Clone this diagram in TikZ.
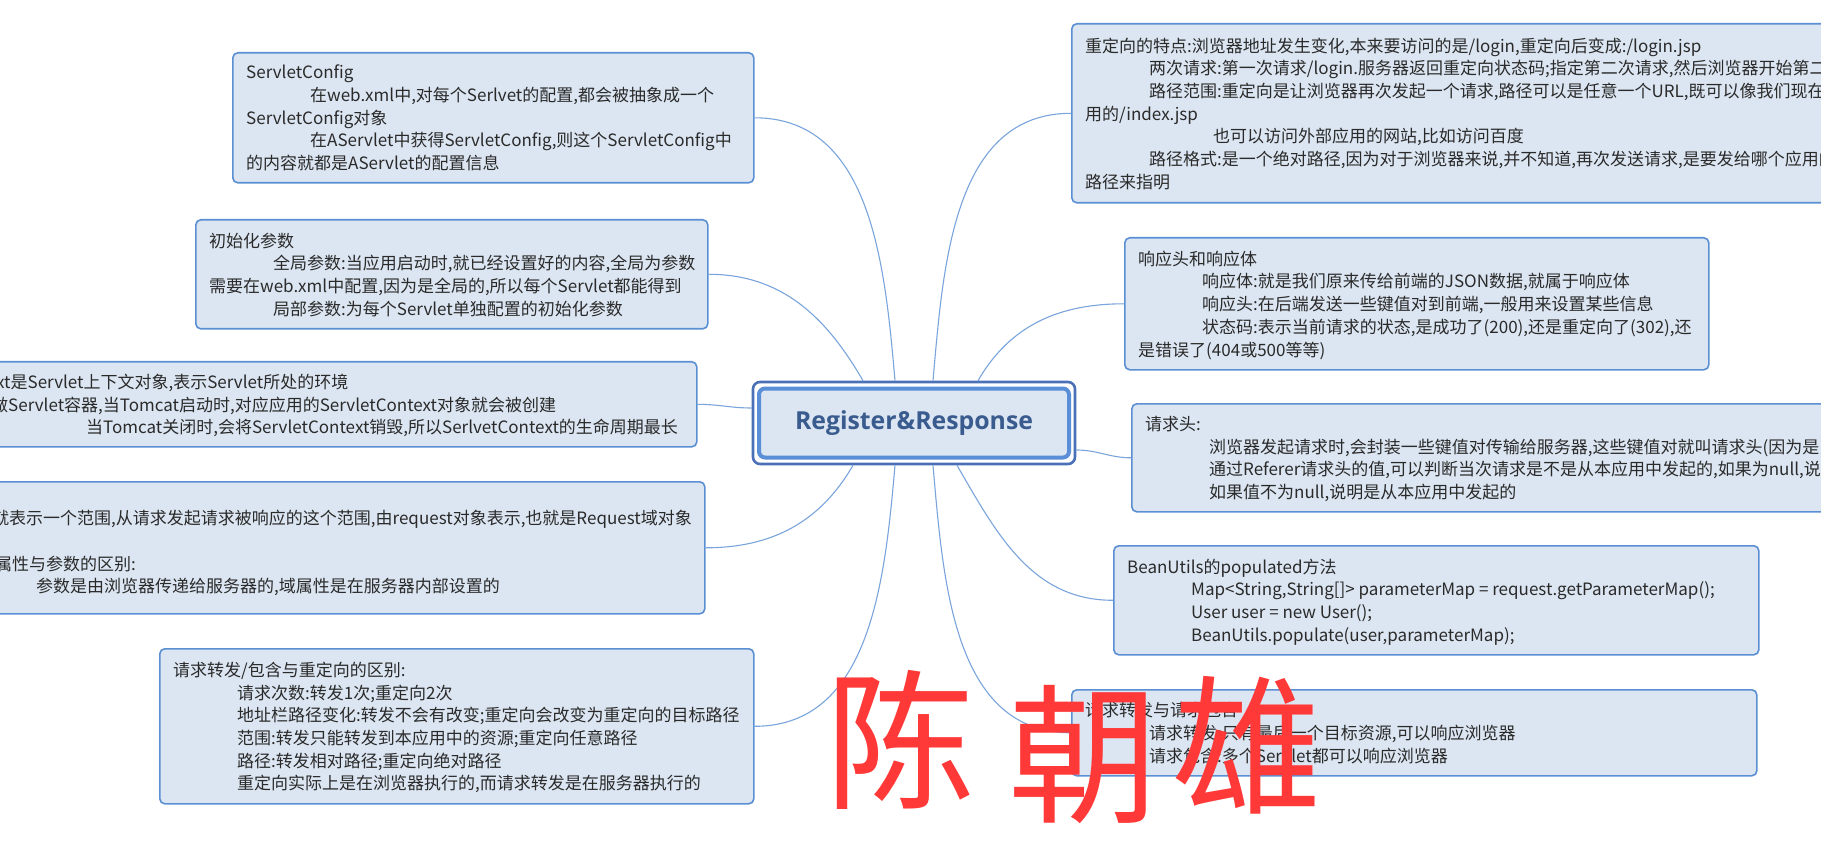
\documentclass[tikz,border=0pt]{standalone}
\usepackage{fontspec}
\usepackage{graphicx}
\setmainfont{Noto Sans CJK SC}
\newfontfamily\cjk{Noto Sans CJK SC}
\newfontfamily\titlefont{Open Sans}
\newcommand{\myind}{\hspace*{64pt}}
\definecolor{boxfill}{HTML}{DCE6F2}
\definecolor{boxline}{HTML}{5B8FD3}
\definecolor{linkc}{HTML}{7AA5DC}
\definecolor{txt}{HTML}{2A2A2A}
\definecolor{ctitle}{HTML}{3A5B8E}
\definecolor{couter}{HTML}{4A70B8}
\definecolor{cinner}{HTML}{5A8ED6}
\definecolor{sigred}{HTML}{FF3838}
\begin{document}
\begin{tikzpicture}[x=1pt,y=-1pt,
  box/.style={draw=boxline, fill=boxfill, line width=1.6pt, rounded corners=5pt, anchor=north west, inner sep=0pt},
  note/.style={anchor=west, align=left, inner sep=0pt, text=txt, yshift=-3pt,
    font=\cjk\fontsize{17}{22.7}\selectfont,
    execute at begin node=\strut, execute at end node=\strut},
  link/.style={draw=linkc, line width=1.1pt},
  sig/.style={text=sigred, inner sep=0pt, font=\cjk\fontsize{150}{150}\selectfont}]
\useasboundingbox (0,0) rectangle (1821,850);
\fill[white] (0,0) rectangle (1821,850);
\clip (0,0) rectangle (1821,850);

% central topic
\node[draw=couter, fill=white, line width=2.6pt, rounded corners=7pt, minimum width=322pt, minimum height=82pt, inner sep=0pt] (c0) at (914,423) {};
\node[draw=cinner, fill=boxfill, line width=4pt, rounded corners=6pt, minimum width=310pt, minimum height=69pt, inner sep=0pt, text=ctitle, font=\titlefont\bfseries] (c) at (914,423) {\resizebox{238pt}{!}{Register\&Response}};

% left boxes
\node[box, minimum width=521pt, minimum height=130pt] (b1) at (232,52) {};
\node[note] (t1) at ([xshift=14pt]b1.west) {ServletConfig\\
\myind 在web.xml中,对每个Serlvet的配置,都会被抽象成一个\\
ServletConfig对象\\
\myind 在AServlet中获得ServletConfig,则这个ServletConfig中\\
的内容就都是AServlet的配置信息};

\node[box, minimum width=512pt, minimum height=109pt] (b2) at (195,219) {};
\node[note] (t2) at ([xshift=14pt]b2.west) {初始化参数\\
\myind 全局参数:当应用启动时,就已经设置好的内容,全局为参数\\
需要在web.xml中配置,因为是全局的,所以每个Servlet都能得到\\
\myind 局部参数:为每个Servlet单独配置的初始化参数};

\node[box, minimum width=714pt, minimum height=85pt] (b3) at (-18,361) {};
\node[note] (t3) at ([xshift=14pt]b3.west) {xt是Servlet上下文对象,表示Servlet所处的环境\\
\hspace*{-5pt}做Servlet容器,当Tomcat启动时,对应应用的ServletContext对象就会被创建\\
\hspace*{90pt}当Tomcat关闭时,会将ServletContext销毁,所以SerlvetContext的生命周期最长};

\node[box, minimum width=726pt, minimum height=132pt] (b4) at (-22,481) {};
\node[note] (t4) at ([xshift=14pt]b4.west) {\mbox{}\\
就表示一个范围,从请求发起请求被响应的这个范围,由request对象表示,也就是Request域对象\\
\mbox{}\\
\hspace*{3pt}属性与参数的区别:\\
\hspace*{44pt}参数是由浏览器传递给服务器的,域属性是在服务器内部设置的};

\node[box, minimum width=594pt, minimum height=155pt] (b5) at (159,648) {};
\node[note] (t5) at ([xshift=14pt]b5.west) {请求转发/包含与重定向的区别:\\
\myind 请求次数:转发1次;重定向2次\\
\myind 地址栏路径变化:转发不会有改变;重定向会改变为重定向的目标路径\\
\myind 范围:转发只能转发到本应用中的资源;重定向任意路径\\
\myind 路径:转发相对路径;重定向绝对路径\\
\myind 重定向实际上是在浏览器执行的,而请求转发是在服务器执行的};

% right boxes
\node[box, minimum width=770pt, minimum height=179pt] (b6) at (1071,23) {};
\node[note] (t6) at ([xshift=14pt]b6.west) {重定向的特点:浏览器地址发生变化,本来要访问的是/login,重定向后变成:/login.jsp\\
\myind 两次请求:第一次请求/login.服务器返回重定向状态码;指定第二次请求,然后浏览器开始第二\\
\myind 路径范围:重定向是让浏览器再次发起一个请求,路径可以是任意一个URL,既可以像我们现在\\
用的/index.jsp\\
\hspace*{128pt}也可以访问外部应用的网站,比如访问百度\\
\myind 路径格式:是一个绝对路径,因为对于浏览器来说,并不知道,再次发送请求,是要发给哪个应用的\\
路径来指明};

\node[box, minimum width=584pt, minimum height=132pt] (b7) at (1124,237) {};
\node[note] (t7) at ([xshift=14pt]b7.west) {响应头和响应体\\
\myind 响应体:就是我们原来传给前端的JSON数据,就属于响应体\\
\myind 响应头:在后端发送一些键值对到前端,一般用来设置某些信息\\
\myind 状态码:表示当前请求的状态,是成功了(200),还是重定向了(302),还\\
是错误了(404或500等等)};

\node[box, minimum width=710pt, minimum height=108pt] (b8) at (1131,403) {};
\node[note] (t8) at ([xshift=14pt]b8.west) {请求头:\\
\myind 浏览器发起请求时,会封装一些键值对传输给服务器,这些键值对就叫请求头(因为是\\
\myind 通过Referer请求头的值,可以判断当次请求是不是从本应用中发起的,如果为null,说\\
\myind 如果值不为null,说明是从本应用中发起的};

\node[box, minimum width=645pt, minimum height=109pt] (b9) at (1113,545) {};
\node[note] (t9) at ([xshift=14pt]b9.west) {BeanUtils的populated方法\\
\myind Map<String,String[]> parameterMap = request.getParameterMap();\\
\myind User user = new User();\\
\myind BeanUtils.populate(user,parameterMap);};

\node[box, minimum width=685pt, minimum height=86pt] (b10) at (1071,689) {};
\node[note] (t10) at ([xshift=14pt]b10.west) {请求转发与请求包含\\
\myind 请求转发:只有最后一个目标资源,可以响应浏览器\\
\myind 请求包含:多个Servlet都可以响应浏览器};

% connectors
\draw[link] ([xshift=-19pt]c0.north) to[out=95,in=0] (b1.east);
\draw[link] ([xshift=-51pt]c0.north) to[out=120,in=0] (b2.east);
\draw[link] ([yshift=15pt]c0.west) to[out=180,in=0] (b3.east);
\draw[link] ([xshift=-61pt]c0.south) to[out=-120,in=0] (b4.east);
\draw[link] ([xshift=-19pt]c0.south) to[out=-95,in=0] (b5.east);
\draw[link] ([xshift=19pt]c0.north) to[out=85,in=180] (b6.west);
\draw[link] ([xshift=64pt]c0.north) to[out=60,in=180] (b7.west);
\draw[link] ([yshift=-27pt]c0.east) to[out=0,in=180] (b8.west);
\draw[link] ([xshift=43pt]c0.south) to[out=-60,in=180] (b9.west);
\draw[link] ([xshift=19pt]c0.south) to[out=-85,in=180] (b10.west);

% handwritten signature
\node[sig] (s1) at (900,740) {陈};
\node[sig] (s2) at (1083,755) {朝};
\node[sig] (s3) at (1247,745) {雄};
\end{tikzpicture}
\end{document}
